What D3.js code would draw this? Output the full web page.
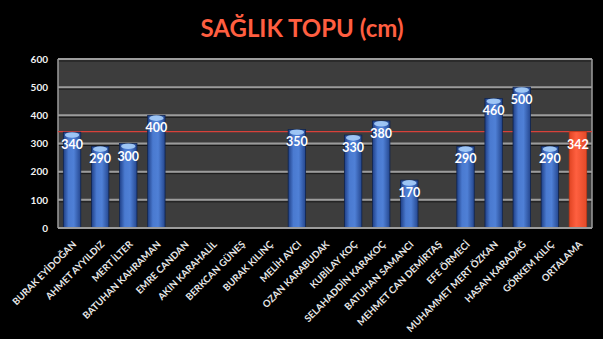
<!DOCTYPE html>
<html>
<head>
<meta charset="utf-8" />
<script src="https://cdnjs.cloudflare.com/ajax/libs/d3/7.8.5/d3.min.js"></script>
<style>
  body { margin: 0; background: #000; }
  svg { display: block; }
  .title { font-family: Lato, 'Open Sans', sans-serif; font-weight: bold; font-size: 24px; fill: #ff5e40; }
  .ytick text { font-family: Lato, sans-serif; font-weight: bold; font-size: 10px; fill: #f2f2f2; }
  .xtick text { font-family: Lato, sans-serif; font-weight: bold; font-size: 9.6px; fill: #e8e8e8; }
  .val { font-family: Lato, sans-serif; font-weight: bold; font-size: 12.5px; fill: #fff; }
</style>
</head>
<body>
<script>
// players and their measured distances (null = no result)
const names = ["BURAK EYİDOĞAN", "AHMET AYYILDIZ", "MERT İLTER", "BATUHAN KAHRAMAN", "EMRE CANDAN",
  "AKIN KARAHALİL", "BERKCAN GÜNEŞ", "BURAK KILINÇ", "MELİH AVCI", "OZAN KARABUDAK",
  "KUBİLAY KOÇ", "SELAHADDİN KARAKOÇ", "BATUHAN SAMANCI", "MEHMET CAN DEMİRTAŞ", "EFE ÖRMECİ",
  "MUHAMMET MERT ÖZKAN", "HASAN KARADAĞ", "GÖRKEM KILIÇ", "ORTALAMA"];
const values = [340, 290, 300, 400, null, null, null, null, 350, null, 330, 380, 170, null, 290, 460, 500, 290, 342];
const average = 342;
const yTicks = [0, 100, 200, 300, 400, 500, 600];

const W = 603, H = 339;
const mLeft = 58, mRight = 592, mTop = 59, mBottom = 228;

const svg = d3.select("body").append("svg").attr("width", W).attr("height", H);

const defs = svg.append("defs");
const g1 = defs.append("linearGradient").attr("id", "blue").attr("x1", 0).attr("x2", 1).attr("y1", 0).attr("y2", 0);
g1.append("stop").attr("offset", 0).attr("stop-color", "#1f3f86");
g1.append("stop").attr("offset", 0.3).attr("stop-color", "#4a7ad0");
g1.append("stop").attr("offset", 0.6).attr("stop-color", "#4f80d6");
g1.append("stop").attr("offset", 1).attr("stop-color", "#24468e");
const g2 = defs.append("linearGradient").attr("id", "orange").attr("x1", 0).attr("x2", 1).attr("y1", 0).attr("y2", 0);
g2.append("stop").attr("offset", 0).attr("stop-color", "#e04422");
g2.append("stop").attr("offset", 0.4).attr("stop-color", "#ff6040");
g2.append("stop").attr("offset", 1).attr("stop-color", "#e34a28");

svg.append("text").attr("class", "title")
  .attr("x", 302).attr("y", 37).attr("text-anchor", "middle")
  .text("SAĞLIK TOPU (cm)");

const x = d3.scaleBand().domain(names).range([mLeft, mRight]).paddingInner(0.38).paddingOuter(0.19);
const y = d3.scaleLinear().domain([0, 600]).range([mBottom, mTop]);

// plot background
svg.append("rect").attr("x", mLeft).attr("y", mTop).attr("width", mRight - mLeft).attr("height", mBottom - mTop)
  .attr("fill", "#3d3d3d");

// gridlines
svg.append("g").selectAll("line").data(yTicks.slice(1)).join("line")
  .attr("x1", mLeft).attr("x2", mRight)
  .attr("y1", d => y(d)).attr("y2", d => y(d))
  .attr("stroke", "#9c9c9c").attr("stroke-width", 2);
svg.append("g").selectAll("line").data(yTicks.slice(1)).join("line")
  .attr("x1", mLeft).attr("x2", mRight)
  .attr("y1", d => y(d) + 2).attr("y2", d => y(d) + 2)
  .attr("stroke", "#1a1a1a").attr("stroke-width", 1);

svg.append("line").attr("x1", mLeft).attr("x2", mLeft).attr("y1", mTop).attr("y2", mBottom)
  .attr("stroke", "#9c9c9c").attr("stroke-width", 1.5);
svg.append("line").attr("x1", mRight).attr("x2", mRight).attr("y1", mTop).attr("y2", mBottom)
  .attr("stroke", "#9c9c9c").attr("stroke-width", 1.5);

// y axis
const yAxis = svg.append("g").attr("class", "ytick").attr("transform", `translate(${mLeft},0)`)
  .call(d3.axisLeft(y).tickValues(yTicks).tickSize(0).tickPadding(10));
yAxis.select(".domain").remove();

const data = names.map((n, i) => ({ name: n, value: values[i], avg: i === names.length - 1 }))
  .filter(d => d.value != null);

// average line (behind the bars)
svg.append("line").attr("x1", mLeft).attr("x2", mRight)
  .attr("y1", y(average)).attr("y2", y(average))
  .attr("stroke", "#d8413a").attr("stroke-width", 1.2);

// bars
const bars = svg.append("g").selectAll("g").data(data).join("g");
bars.append("rect")
  .attr("x", d => x(d.name)).attr("width", x.bandwidth())
  .attr("y", d => y(d.value)).attr("height", d => mBottom - y(d.value))
  .attr("fill", d => d.avg ? "url(#orange)" : "url(#blue)")
  .attr("stroke", d => d.avg ? "#c03818" : "#10244e").attr("stroke-width", 0.8);
bars.filter(d => !d.avg).append("ellipse")
  .attr("cx", d => x(d.name) + x.bandwidth() / 2).attr("cy", d => y(d.value) + 2.8)
  .attr("rx", x.bandwidth() / 2 - 1.5).attr("ry", 2.8)
  .attr("fill", "#a6cdf8").attr("opacity", 0.9);

// x axis line
svg.append("line").attr("x1", mLeft).attr("x2", mRight).attr("y1", mBottom).attr("y2", mBottom)
  .attr("stroke", "#9c9c9c").attr("stroke-width", 2);

// value labels
bars.append("text").attr("class", "val")
  .attr("x", d => x(d.name) + x.bandwidth() / 2)
  .attr("y", d => y(d.value) + 17)
  .attr("text-anchor", "middle")
  .text(d => d.value);

// x category labels
const xAxis = svg.append("g").attr("class", "xtick").attr("transform", `translate(0,${mBottom})`)
  .call(d3.axisBottom(x).tickSize(0).tickPadding(0));
xAxis.select(".domain").remove();
xAxis.selectAll("text")
  .attr("text-anchor", "end")
  .attr("dy", 0)
  .attr("transform", "translate(5,17) rotate(-45)");
</script>
</body>
</html>
